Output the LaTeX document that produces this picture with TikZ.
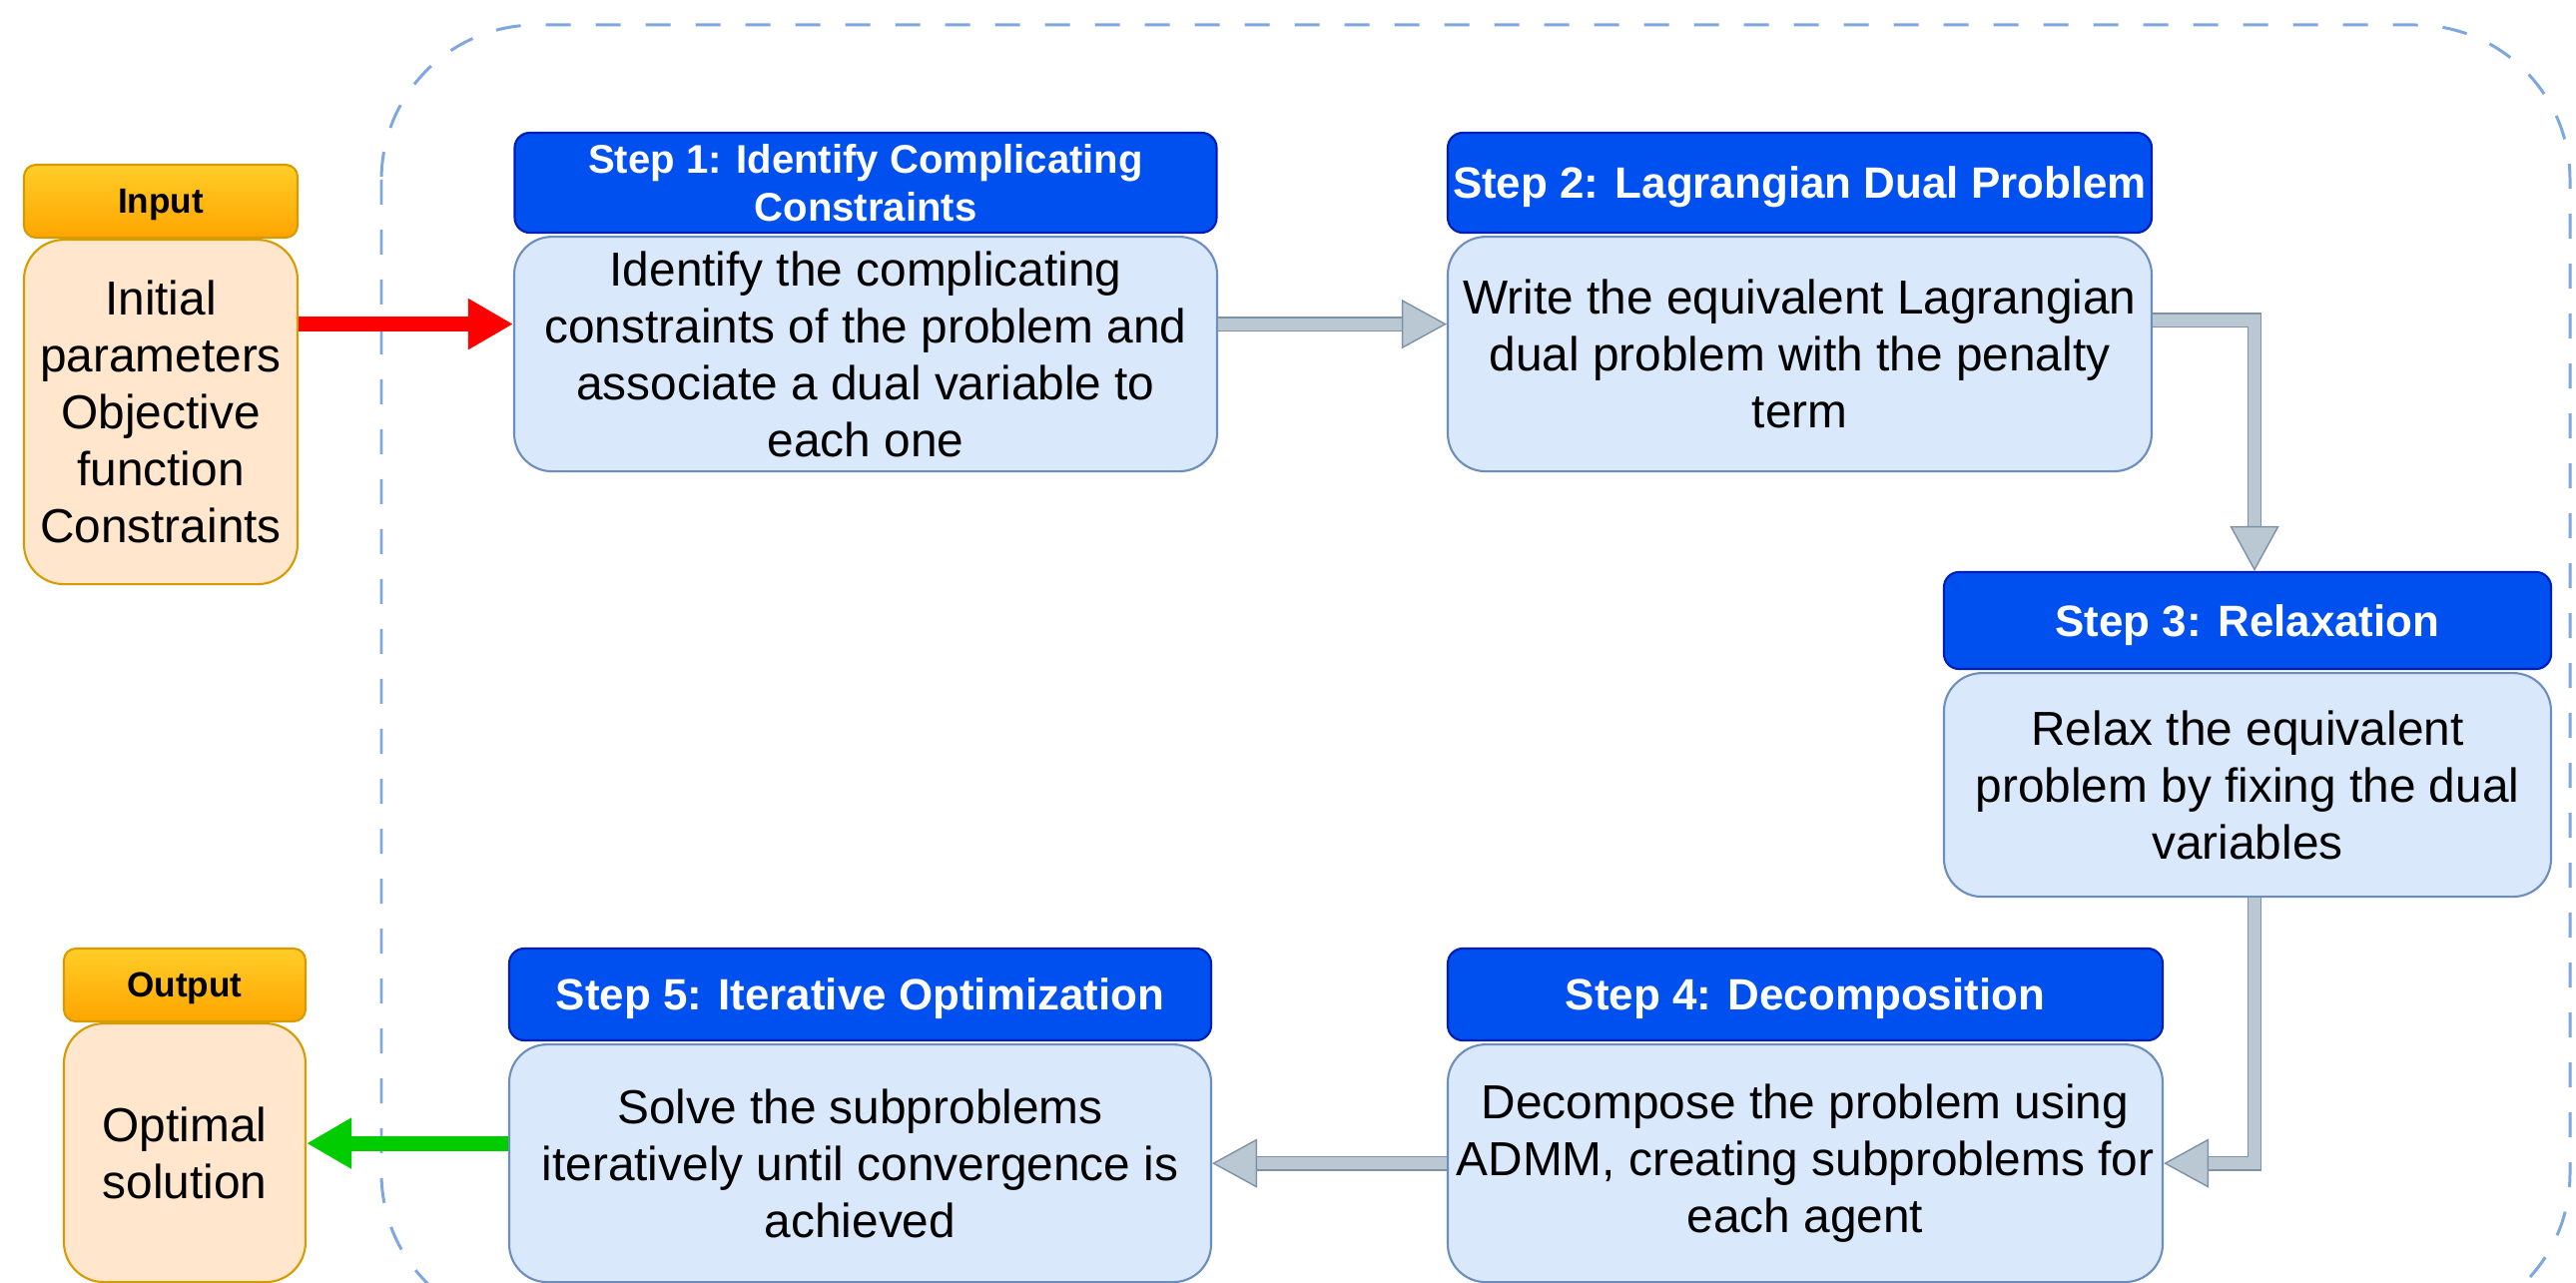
\documentclass[tikz,border=0pt]{standalone}
\usepackage{fontspec}
\setmainfont{Liberation Sans}
\usepackage{tikz}
\usetikzlibrary{arrows.meta,positioning}
\definecolor{stepblue}{HTML}{0050EF}
\definecolor{stepedge}{HTML}{001DBC}
\definecolor{stepfill}{HTML}{DAE8FC}
\definecolor{stepline}{HTML}{6C8EBF}
\definecolor{iotop}{HTML}{FFCD28}
\definecolor{iobottom}{HTML}{FFA500}
\definecolor{ioline}{HTML}{D79B00}
\definecolor{iofill}{HTML}{FFE6CC}
\definecolor{flowfill}{HTML}{BAC8D3}
\definecolor{flowline}{HTML}{7D92A6}
\definecolor{loopline}{HTML}{7EA6E0}
\definecolor{goodgreen}{HTML}{00CC00}

\begin{document}
\begin{tikzpicture}[
    node distance=0.02cm,
    headbox/.style={
        draw=stepedge,
        fill=stepblue,
        rounded corners=0.15cm,
        line width=0.6pt,
        text=white,
        align=center,
        inner sep=0pt,
        text depth=0pt,
        font=\fontsize{12.5}{14}\selectfont\bfseries
    },
    bodybox/.style={
        draw=stepline,
        fill=stepfill,
        rounded corners=0.38cm,
        line width=0.6pt,
        align=center,
        inner sep=0pt,
        font=\fontsize{13.6}{16.2}\selectfont
    },
    iohead/.style={
        draw=ioline,
        top color=iotop,
        bottom color=iobottom,
        rounded corners=0.12cm,
        line width=0.6pt,
        inner sep=0pt,
        text depth=0pt,
        font=\fontsize{10}{12}\selectfont\bfseries
    },
    iobody/.style={
        draw=ioline,
        fill=iofill,
        rounded corners=0.4cm,
        line width=0.6pt,
        align=center,
        inner sep=0pt,
        font=\fontsize{13.6}{16.2}\selectfont
    },
    flow/.style={
        draw=flowline,
        line width=0.4pt,
        double=flowfill,
        double distance=0.12cm,
        -{Triangle[length=0.45cm, width=0.49cm, fill=flowfill]}
    },
    solidflow/.style={
        line width=0.15cm,
        -{Triangle[length=0.45cm, width=0.48cm]}
    }
]
\useasboundingbox (0,0) rectangle (25.8,-12.85);

% Dashed loop round the steps
\begin{scope}
\clip (0,0) rectangle (25.8,-12.85);
\draw[
    loopline,
    line width=0.85pt,
    dash pattern=on 0.25cm off 0.25cm,
    rounded corners=1.55cm
]
(3.82,-0.25) rectangle (25.74,-13.3);
\end{scope}

% Input and output
\node[iohead, minimum width=2.74cm, minimum height=0.73cm] (inhead)
at (1.61,-2.015) {Input};
\node[iobody, minimum width=2.74cm, minimum height=3.45cm,
    below=0cm of inhead] (inbody)
{Initial\\parameters\\Objective\\function\\Constraints};

\node[iohead, minimum width=2.42cm, minimum height=0.73cm] (outhead)
at (1.85,-9.865) {Output};
\node[iobody, minimum width=2.42cm, minimum height=2.59cm,
    below=0cm of outhead] (outbody)
{Optimal\\solution};

% Step boxes
\node[headbox, minimum width=7.03cm, minimum height=1.0cm,
    font=\fontsize{11.4}{13.7}\selectfont\bfseries] (s1head)
at (8.67,-1.83)
{Step 1: Identify Complicating\\Constraints};
\node[bodybox, minimum width=7.04cm, minimum height=2.35cm,
    below=of s1head] (s1)
{Identify the complicating\\constraints of the problem and\\associate a dual variable to\\each one};

\node[headbox, minimum width=7.05cm, minimum height=1.0cm] (s2head)
at (18.025,-1.83)
{Step 2: Lagrangian Dual Problem};
\node[bodybox, minimum width=7.05cm, minimum height=2.35cm,
    below=of s2head] (s2)
{Write the equivalent Lagrangian\\dual problem with the penalty\\term};

\node[headbox, minimum width=6.08cm, minimum height=0.97cm] (s3head)
at (22.51,-6.215)
{Step 3: Relaxation};
\node[bodybox, minimum width=6.08cm, minimum height=2.24cm,
    below=of s3head] (s3)
{Relax the equivalent\\problem by fixing the dual\\variables};

\node[headbox, minimum width=7.16cm, minimum height=0.92cm] (s4head)
at (18.08,-9.96)
{Step 4: Decomposition};
\node[bodybox, minimum width=7.16cm, minimum height=2.38cm,
    below=of s4head] (s4)
{Decompose the problem using\\ADMM, creating subproblems for\\each agent};

\node[headbox, minimum width=7.03cm, minimum height=0.92cm] (s5head)
at (8.615,-9.96)
{Step 5: Iterative Optimization};
\node[bodybox, minimum width=7.03cm, minimum height=2.38cm,
    below=of s5head] (s5)
{Solve the subproblems\\iteratively until convergence is\\achieved};

% Arrows
\draw[solidflow, red]
([yshift=3mm]s1.west -| inbody.east) -- ([yshift=3mm]s1.west);

\draw[flow]
([yshift=3mm]s1.east) -- ([yshift=3mm]s2.west);

\draw[flow]
([yshift=3.4mm]s2.east) -| ([xshift=0.07cm]s3head.north);

\draw[flow]
([xshift=0.07cm]s3.south) |- (s4.east);

\draw[flow]
(s4.west) -- (s5.east);

\draw[solidflow, goodgreen]
([yshift=2mm]s5.west) -- ([yshift=2mm]s5.west -| outbody.east);
\end{tikzpicture}
\end{document}
